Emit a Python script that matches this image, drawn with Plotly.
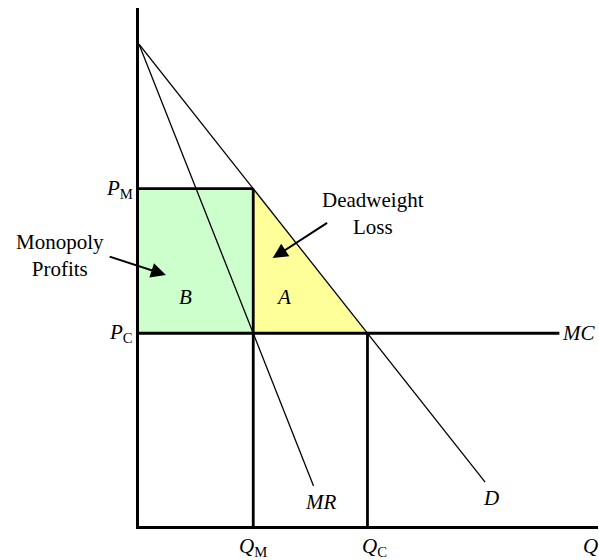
import plotly.graph_objects as go

# monopoly vs competition (arbitrary units: Q on x, P on y)
Q_M, Q_C = 5, 10
P_M, P_C = 7, 4

demand_q = [0, 5, 10, 15.15]
demand_p = [10, 7, 4, 0.91]
mr_q = [0, 5, 7.64]
mr_p = [10, 4, 0.83]
mc_q = [0, 18.4]
mc_p = [4, 4]

profit_q = [0, 0, Q_M, Q_M, 0]
profit_p = [P_C, P_M, P_M, P_C, P_C]
dwl_q = [Q_M, Q_M, Q_C, Q_M]
dwl_p = [P_C, P_M, P_C, P_C]

GREEN = "#ccffcc"
YELLOW = "#ffff99"
INK = "#000000"
FONT = "Liberation Serif, Times New Roman, serif"
X_MAX = 20.09

fig = go.Figure()

fig.add_trace(go.Scatter(x=profit_q, y=profit_p, fill="toself", fillcolor=GREEN,
                         mode="lines", line=dict(width=0), hoverinfo="skip"))
fig.add_trace(go.Scatter(x=dwl_q, y=dwl_p, fill="toself", fillcolor=YELLOW,
                         mode="lines", line=dict(width=0), hoverinfo="skip"))

thick = dict(color=INK, width=2.8)
thin = dict(color=INK, width=1.3)
fig.add_trace(go.Scatter(x=[0, Q_M], y=[P_M, P_M], mode="lines", line=thick))
fig.add_trace(go.Scatter(x=[Q_M, Q_M], y=[0, P_M], mode="lines", line=thick))
fig.add_trace(go.Scatter(x=mc_q, y=mc_p, mode="lines", line=thick))
fig.add_trace(go.Scatter(x=[Q_C, Q_C], y=[0, P_C], mode="lines", line=thick))
fig.add_trace(go.Scatter(x=demand_q, y=demand_p, mode="lines", line=thin))
fig.add_trace(go.Scatter(x=mr_q, y=mr_p, mode="lines", line=thin))

txt = dict(showarrow=False, font=dict(size=21, color=INK, family=FONT))

# labels inside the axes
for text, x, y in [("<i>D</i>", 15.4, 0.58), ("<i>MR</i>", 7.95, 0.5),
                   ("<i>A</i>", 6.33, 4.75), ("<i>B</i>", 2.05, 4.75),
                   ("Deadweight<br>Loss", 10.22, 6.49)]:
    fig.add_annotation(x=x, y=y, text=text, **txt)

# price labels left of the y axis
for text, y in [("<i>P</i><sub>M</sub>", P_M), ("<i>P</i><sub>C</sub>", P_C)]:
    fig.add_annotation(xref="paper", x=0, y=y, text=text, xanchor="right",
                       xshift=-4, **txt)

# quantity labels under the x axis
for text, x in [("<i>Q</i><sub>M</sub>", Q_M), ("<i>Q</i><sub>C</sub>", Q_C + 0.3),
                ("<i>Q</i>", 19.75)]:
    fig.add_annotation(yref="paper", y=0, x=x, text=text, yanchor="top",
                       xanchor="center", yshift=-6, **txt)

fig.add_annotation(xref="paper", x=1, y=P_C, text="<i>MC</i>", xanchor="right",
                   xshift=-1, **txt)
fig.add_annotation(xref="paper", x=-3.45 / X_MAX, y=5.62, text="Monopoly<br>Profits",
                   xanchor="center", **txt)

# pointer arrows
for (hx, hy), (tx, ty) in [((1.18, 5.21), (-1.35, 5.60)), ((5.85, 5.56), (8.30, 6.31))]:
    fig.add_annotation(x=hx, y=hy, ax=tx, ay=ty, xref="x", yref="y", axref="x", ayref="y",
                       text="", showarrow=True, arrowhead=2, arrowsize=1.5,
                       arrowwidth=2, arrowcolor=INK)

axis = dict(showline=True, linewidth=3, linecolor=INK, showgrid=False,
            zeroline=False, showticklabels=False, ticks="")
fig.update_layout(
    width=599, height=560,
    margin=dict(l=139, r=1, t=8, b=34),
    paper_bgcolor="white", plot_bgcolor="white",
    showlegend=False,
    font=dict(family=FONT, color=INK),
    xaxis=dict(**axis, range=[0, X_MAX]),
    yaxis=dict(**axis, range=[0, 10.75]),
)

# drop the default 8px body margin so the figure fills the window exactly
fig.write_html("out.html", config={"displayModeBar": False},
               post_script="document.body.style.margin = '0';")
